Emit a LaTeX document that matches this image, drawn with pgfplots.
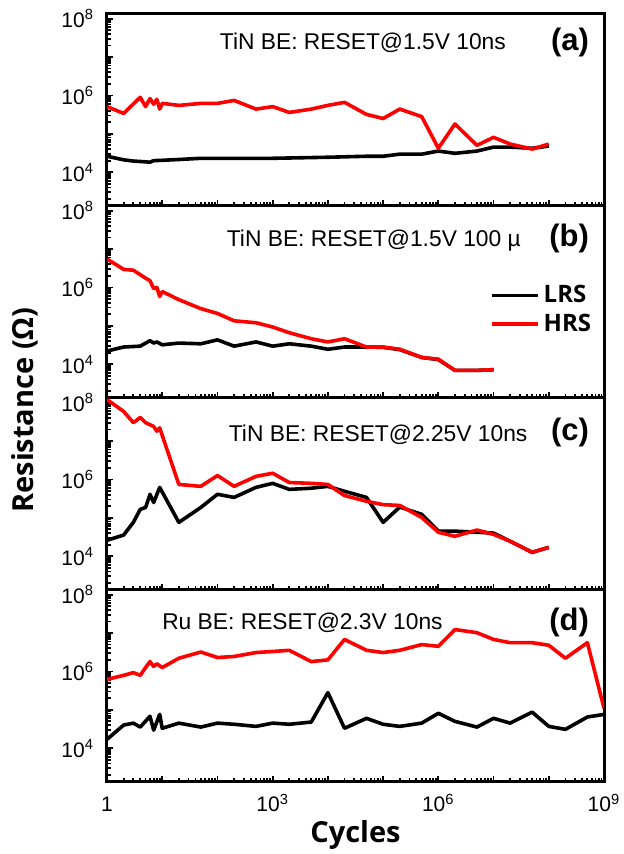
\documentclass[border=0pt]{standalone}
\usepackage{fontspec}
\setmainfont{Liberation Sans}
\newfontfamily\osb{Open Sans}
\usepackage{pgfplots}
\pgfplotsset{compat=1.18}
\definecolor{hrsred}{RGB}{255,0,0}
\pgfplotsset{
 every axis/.append style={
 width=248.5pt, height=96pt, scale only axis,
 xmin=1, xmax=1e9, ymin=1318, ymax=1.32e8,
 axis line style={line width=1.5pt},
 tick align=inside, xtick pos=lower, ytick pos=left,
 major tick length=3pt, minor tick length=1.8pt,
 tick style={line width=0.9pt, black},
 xtick={1,10,100,1e3,1e4,1e5,1e6,1e7,1e8,1e9},
 minor xtick={2,3,4,5,6,7,8,9,20,30,40,50,60,70,80,90,200,300,400,500,600,700,800,900,2e3,3e3,4e3,5e3,6e3,7e3,8e3,9e3,2e4,3e4,4e4,5e4,6e4,7e4,8e4,9e4,2e5,3e5,4e5,5e5,6e5,7e5,8e5,9e5,2e6,3e6,4e6,5e6,6e6,7e6,8e6,9e6,2e7,3e7,4e7,5e7,6e7,7e7,8e7,9e7,2e8,3e8,4e8,5e8,6e8,7e8,8e8,9e8},
 ytick={1e4,1e5,1e6,1e7,1e8},
 yticklabels={10\textsuperscript{4},,10\textsuperscript{6},,10\textsuperscript{8}},
 minor ytick={2e3,3e3,4e3,5e3,6e3,7e3,8e3,9e3,2e4,3e4,4e4,5e4,6e4,7e4,8e4,9e4,2e5,3e5,4e5,5e5,6e5,7e5,8e5,9e5,2e6,3e6,4e6,5e6,6e6,7e6,8e6,9e6,2e7,3e7,4e7,5e7,6e7,7e7,8e7,9e7},
 yticklabel style={font=\fontsize{10.5}{12}\selectfont, xshift=-3pt},
 xticklabel style={font=\fontsize{10.5}{12}\selectfont, anchor=base, yshift=-15pt},
 anchor=south west,
}}
\tikzset{
ptxt/.style={font=\fontsize{11.4}{13}\selectfont, anchor=west},
plab/.style={font=\fontsize{15.5}{17}\selectfont\bfseries, anchor=east}
}
\begin{document}
\begin{tikzpicture}
\path[use as bounding box] (-53.5pt,-36pt) rectangle (258.5pt,391pt);

% (a)
\begin{loglogaxis}[at={(0pt,288pt)}, xticklabels={}]
\addplot[black, line width=1.8pt, line join=round] coordinates {(1,2.6e4)(2,2.1e4)(3,1.95e4)(5,1.86e4)(6,1.82e4)(7,2.0e4)(10,2.04e4)(20,2.14e4)(50,2.3e4)(100,2.3e4)(1e3,2.3e4)(1e4,2.45e4)(5e4,2.6e4)(1e5,2.6e4)(2e5,2.95e4)(5e5,2.95e4)(1e6,3.55e4)(2e6,3.1e4)(5e6,3.55e4)(1e7,4.5e4)(2e7,4.5e4)(5e7,4.2e4)(1e8,4.8e4)};
\addplot[hrsred, line width=1.8pt, line join=round] coordinates {(1,5.1e5)(2,3.4e5)(4,8.9e5)(5,5.1e5)(6,8.3e5)(7,5.9e5)(8,7.9e5)(9,4.4e5)(10,6.2e5)(20,5.5e5)(50,6.2e5)(100,6.2e5)(200,7.4e5)(500,4.4e5)(1e3,5.1e5)(2e3,3.6e5)(5e3,4.4e5)(1e4,5.5e5)(2e4,6.6e5)(5e4,3.2e5)(1e5,2.5e5)(2e5,4.4e5)(5e5,2.8e5)(1e6,4.2e4)(2e6,1.8e5)(5e6,5.0e4)(1e7,8.1e4)(2e7,5.4e4)(5e7,4.0e4)(1e8,5.4e4)};
\node[ptxt] at (rel axis cs:0.213,0.85) {TiN BE: RESET@1.5V 10ns};
\node[plab] at (rel axis cs:0.984,0.85) {(a)};
\end{loglogaxis}

% (b)
\begin{loglogaxis}[at={(0pt,192pt)}, xticklabels={},
 legend style={draw=none, fill=none, at={(0.77,0.61)}, anchor=north west,
   font=\osb\bfseries\fontsize{12}{14}\selectfont, row sep=0pt, inner sep=0pt,
   /tikz/every even column/.append style={column sep=2pt}},
 legend cell align=left,
 legend image code/.code={\draw[#1] (0pt,0pt) -- (23pt,0pt);}]
\addplot[black, line width=1.8pt, line join=round] coordinates {(1,2.2e4)(2,2.8e4)(4,2.95e4)(6,4.1e4)(7,3.55e4)(8,3.8e4)(10,3.2e4)(20,3.55e4)(50,3.4e4)(100,4.3e4)(200,2.95e4)(500,3.8e4)(1e3,2.95e4)(2e3,3.4e4)(5e3,2.95e4)(1e4,2.45e4)(2e4,2.8e4)(5e4,2.8e4)(1e5,2.75e4)(2e5,2.4e4)(5e5,1.5e4)(1e6,1.32e4)(2e6,6.9e3)(5e6,6.9e3)(1e7,7.2e3)};
\addlegendentry{LRS}
\addplot[hrsred, line width=1.8pt, line join=round] coordinates {(1,5.5e6)(2,2.95e6)(3,2.8e6)(5,1.74e6)(6,1.5e6)(7,9.3e5)(8,1.0e6)(9,5.8e5)(10,7.8e5)(20,4.8e5)(50,2.8e5)(100,2.1e5)(200,1.35e5)(500,1.2e5)(1e3,9.3e4)(2e3,6.6e4)(5e3,4.6e4)(1e4,3.8e4)(2e4,4.6e4)(5e4,2.8e4)(1e5,2.8e4)(2e5,2.45e4)(5e5,1.5e4)(1e6,1.35e4)(2e6,6.9e3)(5e6,6.9e3)(1e7,7.2e3)};
\addlegendentry{HRS}
\node[ptxt] at (rel axis cs:0.227,0.82) {TiN BE: RESET@1.5V 100 µ};
\node[plab] at (rel axis cs:0.984,0.83) {(b)};
\end{loglogaxis}

% (c)
\begin{loglogaxis}[at={(0pt,96pt)}, xticklabels={}]
\addplot[black, line width=1.8pt, line join=round] coordinates {(1,2.6e4)(2,3.55e4)(3,7.6e4)(4,1.66e5)(5,1.86e5)(6,4.1e5)(7,2.5e5)(9,6.2e5)(20,7.6e4)(50,1.86e5)(100,4.1e5)(200,3.4e5)(500,6.2e5)(1e3,7.9e5)(2e3,5.5e5)(5e3,5.9e5)(1e4,6.6e5)(2e4,4.9e5)(5e4,3.4e5)(1e5,7.6e4)(2e5,1.9e5)(5e5,1.23e5)(1e6,4.5e4)(2e6,4.5e4)(5e6,4.2e4)(1e7,4.0e4)(2e7,2.45e4)(5e7,1.26e4)(1e8,1.7e4)};
\addplot[hrsred, line width=1.8pt, line join=round] coordinates {(1,1.2e8)(2,5.9e7)(3,3.0e7)(4,4.1e7)(5,3.0e7)(7,2.4e7)(8,1.8e7)(9,2.2e7)(20,7.4e5)(50,6.6e5)(100,1.26e6)(200,6.6e5)(500,1.2e6)(1e3,1.45e6)(2e3,8.3e5)(5e3,7.9e5)(1e4,7.4e5)(2e4,3.8e5)(5e4,2.7e5)(1e5,2.2e5)(2e5,2.1e5)(5e5,1.02e5)(1e6,4.2e4)(2e6,3.3e4)(5e6,4.8e4)(1e7,3.7e4)(2e7,2.45e4)(5e7,1.26e4)(1e8,1.7e4)};
\node[ptxt] at (rel axis cs:0.231,0.81) {TiN BE: RESET@2.25V 10ns};
\node[plab] at (rel axis cs:0.984,0.82) {(c)};
\end{loglogaxis}

% (d)
\begin{loglogaxis}[at={(0pt,0pt)},
 xticklabels={1,,,10\textsuperscript{3},,,10\textsuperscript{6},,,10\textsuperscript{9}}]
\addplot[black, line width=1.8pt, line join=round] coordinates {(1,1.7e4)(2,4.0e4)(3,4.5e4)(4,3.55e4)(6,6.8e4)(7,2.95e4)(9,7.6e4)(10,3.3e4)(20,4.5e4)(50,3.55e4)(100,4.5e4)(200,4.2e4)(500,3.7e4)(1e3,4.5e4)(2e3,4.2e4)(5e3,4.8e4)(1e4,2.8e5)(2e4,3.3e4)(5e4,6.0e4)(1e5,4.2e4)(2e5,3.7e4)(5e5,4.5e4)(1e6,8.1e4)(2e6,5.0e4)(5e6,3.55e4)(1e7,6.0e4)(2e7,4.5e4)(5e7,8.7e4)(1e8,3.7e4)(2e8,3.1e4)(5e8,6.5e4)(1e9,7.6e4)};
\addplot[hrsred, line width=1.8pt, line join=round] coordinates {(1,6.2e5)(2,7.9e5)(3,9.3e5)(4,7.9e5)(5,1.26e6)(6,1.8e6)(7,1.35e6)(8,1.58e6)(10,1.26e6)(20,2.2e6)(50,3.2e6)(100,2.3e6)(200,2.45e6)(500,3.1e6)(1e3,3.3e6)(2e3,3.55e6)(5e3,1.8e6)(1e4,2.0e6)(2e4,6.8e6)(5e4,3.55e6)(1e5,3.1e6)(2e5,3.55e6)(5e5,5.0e6)(1e6,4.5e6)(2e6,1.23e7)(5e6,1.02e7)(1e7,6.8e6)(2e7,5.6e6)(5e7,5.6e6)(1e8,4.8e6)(2e8,2.2e6)(5e8,5.6e6)(1e9,1.1e5)};
\node[ptxt] at (rel axis cs:0.097,0.83) {Ru BE: RESET@2.3V 10ns};
\node[plab] at (rel axis cs:0.984,0.83) {(d)};
\end{loglogaxis}

\node[font=\osb\bfseries\fontsize{14.5}{16}\selectfont] at (124.25pt,-26.5pt) {Cycles};
\node[font=\osb\bfseries\fontsize{14.5}{16}\selectfont, rotate=90] at (-41pt,186pt) {Resistance (Ω)};
\end{tikzpicture}
\end{document}
